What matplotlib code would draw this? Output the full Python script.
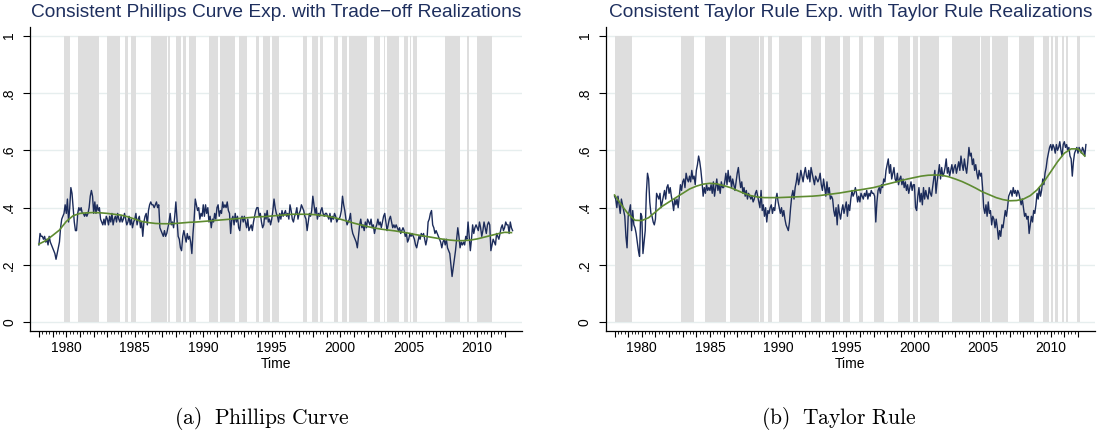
import numpy as np
import matplotlib
matplotlib.use("Agg")
import matplotlib.pyplot as plt
from matplotlib.ticker import FixedLocator, FuncFormatter

plt.rcParams['mathtext.fontset'] = 'cm'

# ---------------- data ----------------
start_year = 1978.0

# Phillips curve panel: monthly series (in hundredths), 1978m1 .. 2012m8
pc_vals = [
    27,31,30,30,29,30,28,29,27,30,28,27,
    26,25,24,22,24,26,28,33,36,37,38,41,
    38,43,35,40,47,45,40,35,32,32,38,40,
    39,40,38,38,37,38,37,38,40,44,46,44,
    38,42,38,41,39,40,36,35,34,36,34,37,
    36,34,37,35,38,34,36,37,35,38,36,35,
    37,35,36,38,36,34,35,37,34,36,33,35,
    36,38,34,36,37,33,35,30,35,37,38,34,
    39,41,42,41,41,40,41,42,40,41,33,32,
    31,30,32,30,31,33,35,38,34,35,33,37,
    42,36,30,29,26,25,30,32,30,28,31,29,
    30,28,24,31,36,43,41,39,40,36,38,37,
    41,37,41,38,40,35,37,33,36,35,38,36,
    40,41,37,39,38,42,40,41,40,42,39,38,
    31,36,37,34,38,35,37,33,32,36,37,35,
    37,35,33,36,32,33,34,32,35,37,39,40,
    40,37,38,35,33,34,38,36,39,35,36,34,
    36,39,43,40,38,37,35,38,36,39,37,38,
    39,37,38,36,41,39,36,35,37,38,40,36,
    38,39,41,40,39,37,36,32,35,38,37,39,
    44,41,38,40,36,38,37,39,40,38,37,38,
    38,37,36,38,35,37,36,38,37,35,36,36,
    37,39,44,41,39,36,34,35,36,38,33,31,
    30,29,28,26,30,34,36,33,34,32,35,33,
    36,35,34,36,33,34,31,33,34,36,34,35,
    33,35,37,38,35,32,34,36,37,35,33,34,
    33,34,33,32,33,31,32,33,32,30,31,28,
    29,31,30,31,30,29,27,26,28,30,29,31,
    30,31,29,27,29,35,36,38,39,34,33,31,
    32,31,30,29,28,26,28,29,27,29,26,25,
    24,20,16,19,22,25,29,33,30,26,28,27,
    28,27,30,29,35,30,25,29,34,31,33,34,
    33,32,35,33,30,32,35,33,31,34,35,34,
    25,27,29,28,27,31,30,29,31,33,34,32,
    33,35,34,34,31,35,33,32,
]

# Phillips curve panel: smooth trend, half-yearly, 1978.0 .. 2012.5
pc_trend = [
    .273,.285,.303,.322,.352,.372,.380,.382,.383,.382,
    .380,.377,.374,.368,.360,.352,.348,.345,.344,.344,
    .345,.347,.349,.350,.352,.354,.356,.358,.360,.362,
    .364,.366,.368,.369,.371,.373,.375,.377,.377,.377,
    .376,.374,.371,.366,.360,.353,.346,.340,.334,.329,
    .325,.322,.319,.315,.311,.306,.302,.298,.294,.290,
    .287,.285,.285,.287,.291,.297,.303,.309,.314,.313,
]

# Phillips curve panel: shaded periods (start, end) in years
pc_shade_start = [1979.80,1980.83,1983.00,1984.26,1984.75,1986.17,1987.39,1987.99,
                  1988.49,1988.97,1990.41,1991.21,1992.63,1993.85,1994.36,1995.02,
                  1997.31,1997.97,1998.53,1999.58,2000.12,2000.65,2002.43,2003.16,
                  2003.41,2004.62,2005.06,2005.35,2007.67,2009.26,2010.00]
pc_shade_end   = [1980.24,1982.38,1983.90,1984.48,1985.07,1987.32,1987.56,1988.36,
                  1988.74,1989.46,1991.05,1992.31,1993.19,1994.07,1994.89,1995.51,
                  1997.60,1998.41,1998.77,1999.87,2000.48,2001.95,2002.92,2003.28,
                  2004.26,2004.92,2005.19,2005.60,2008.77,2009.43,2011.10]

# Taylor rule panel: monthly series (in hundredths), 1978m1 .. 2012m8
tr_vals = [
    44,43,40,44,41,38,43,41,39,37,30,26,
    37,39,41,32,39,34,33,31,28,25,23,38,
    37,24,28,32,45,52,50,42,38,37,35,34,
    36,45,44,43,45,40,42,44,46,43,47,48,
    45,47,44,42,39,43,41,43,40,44,48,46,
    49,50,47,52,50,49,51,49,53,50,51,48,
    53,55,58,56,53,49,44,47,45,48,46,47,
    46,48,45,49,44,47,50,46,48,45,49,47,
    47,49,52,48,53,49,51,47,50,48,46,49,
    52,54,50,47,49,45,47,44,46,43,45,44,
    43,44,42,43,45,46,44,42,40,46,39,41,
    37,40,35,39,38,40,41,38,40,39,43,45,
    42,40,38,40,37,39,36,34,33,32,35,40,
    44,46,43,47,49,52,48,50,53,51,49,52,
    54,51,50,53,49,54,52,50,48,51,50,49,
    50,52,48,46,50,47,44,49,45,47,43,44,
    43,39,37,40,34,41,38,36,39,41,38,40,
    42,37,41,39,43,46,44,45,47,45,42,44,
    42,45,44,43,45,44,46,43,45,44,46,45,
    45,44,35,42,46,47,45,48,47,50,49,53,
    55,57,52,55,50,52,54,50,49,52,48,50,
    51,48,50,47,49,46,48,45,47,49,46,48,
    48,40,39,44,47,42,45,41,47,43,46,44,
    43,47,45,44,47,50,53,45,49,52,55,50,
    54,51,52,54,57,52,54,51,53,55,52,54,
    55,52,54,56,53,58,55,53,57,54,52,56,
    61,58,59,55,57,53,55,52,50,53,51,52,
    47,40,38,41,37,42,38,39,34,37,36,33,
    36,33,29,32,30,34,33,36,39,37,40,44,
    45,46,44,47,45,46,44,46,45,43,41,43,
    40,37,38,36,37,31,34,37,35,39,38,41,
    45,43,47,44,46,50,48,52,54,57,59,61,
    62,60,62,61,59,62,60,61,63,60,58,62,
    63,61,62,60,61,58,57,51,56,59,60,61,
    59,61,60,59,61,60,58,62,
]

# Taylor rule panel: smooth trend, half-yearly, 1978.0 .. 2012.5
tr_trend = [
    .444,.410,.378,.356,.355,.365,.385,.405,.420,.435,
    .450,.465,.475,.482,.485,.483,.477,.470,.460,.450,
    .442,.437,.435,.435,.435,.436,.437,.438,.439,.440,
    .442,.445,.448,.451,.455,.459,.462,.466,.470,.476,
    .482,.488,.494,.500,.505,.510,.513,.514,.513,.508,
    .500,.491,.480,.468,.455,.445,.435,.428,.424,.425,
    .430,.442,.462,.490,.525,.560,.590,.605,.605,.580,
]

# Taylor rule panel: shaded periods (start, end) in years
tr_shade_start = [1978.00,1982.87,1984.63,1986.46,1988.67,1989.29,1990.04,1992.44,
                  1993.41,1994.75,1995.92,1997.07,1998.77,1999.88,2000.40,2002.75,
                  2004.87,2005.70,2007.67,2009.43,2009.99,2010.33,2010.80,2011.13,
                  2011.94]
tr_shade_end   = [1979.27,1983.85,1986.14,1988.60,1988.97,1989.58,1991.75,1993.17,
                  1994.51,1995.29,1996.26,1997.80,1999.66,2000.25,2001.82,2004.80,
                  2005.53,2006.89,2008.77,2009.87,2010.16,2010.57,2010.99,2011.26,
                  2012.12]

titles = ["Consistent Phillips Curve Exp. with Trade\u2212off Realizations",
          "Consistent Taylor Rule Exp. with Taylor Rule Realizations"]
captions = [r"$\mathrm{(a)\ \ Phillips\ Curve}$", r"$\mathrm{(b)\ \ Taylor\ Rule}$"]
y_ticks = [0, .2, .4, .6, .8, 1]
y_ticklabels = ["0", ".2", ".4", ".6", ".8", "1"]
x_labeled = [1980, 1985, 1990, 1995, 2000, 2005, 2010]
x_label = "Time"

# ---------------- styling ----------------
W, H = 1099, 433
NAVY = '#1c2c5b'
GREEN = '#5e8b30'
SHADE = '#dedede'
GRID = '#e6eeee'
TITLE_C = '#1e2f5e'
FONT = 'Liberation Sans'

fig = plt.figure(figsize=(W / 100, H / 100), dpi=100)

panels = [
    dict(left=30, right=521.7, vals=pc_vals, trend=pc_trend,
         s=pc_shade_start, e=pc_shade_end),
    dict(left=605.7, right=1095, vals=tr_vals, trend=tr_trend,
         s=tr_shade_start, e=tr_shade_end),
]
top_px, bot_px = 26.7, 330.7

for i, p in enumerate(panels):
    ax = fig.add_axes([p['left'] / W, 1 - bot_px / H,
                       (p['right'] - p['left']) / W, (bot_px - top_px) / H])
    vals = np.array(p['vals']) / 100.0
    t = start_year + np.arange(len(vals)) / 12.0
    tt = start_year + np.arange(len(p['trend'])) / 2.0

    s = np.array(p['s']); e = np.array(p['e'])
    ax.bar(s, np.ones_like(s), width=e - s, bottom=0, align='edge',
           color=SHADE, linewidth=0, zorder=1)
    for yv in y_ticks:
        ax.axhline(yv, color=GRID, lw=1.0, zorder=0.5)
    ax.plot(t, vals, color=NAVY, lw=1.0, zorder=3)
    ax.plot(tt, p['trend'], color=GREEN, lw=1.2, zorder=4)

    ax.set_xlim(1977.35, 2013.25)
    ax.set_ylim(-0.029, 1.031)
    for sp in ['top', 'right']:
        ax.spines[sp].set_visible(False)
    for sp in ['left', 'bottom']:
        ax.spines[sp].set_color('#000000')
        ax.spines[sp].set_linewidth(0.9)

    ax.set_yticks(y_ticks)
    ax.set_yticklabels(y_ticklabels, rotation=90, va='center',
                       fontsize=10, family=FONT)
    ax.tick_params(axis='y', length=5, width=0.8, pad=5)

    years = np.arange(1978, 2013)
    ax.xaxis.set_major_locator(FixedLocator(years))
    ax.xaxis.set_major_formatter(FuncFormatter(
        lambda v, pos: str(int(round(v))) if int(round(v)) in x_labeled else ""))
    quarters = [y + q / 4 for y in range(1978, 2012) for q in (1, 2, 3)]
    ax.xaxis.set_minor_locator(FixedLocator(quarters))
    ax.tick_params(axis='x', which='major', length=4, width=0.8, pad=3.5,
                   labelsize=10)
    ax.tick_params(axis='x', which='minor', length=2, width=0.6)
    for lab in ax.get_xticklabels():
        lab.set_family(FONT)
    ax.set_xlabel(x_label, fontsize=10, family=FONT, labelpad=1.5)

    cx = (p['left'] + p['right']) / 2
    fig.text(cx / W, 1 - 12.7 / H, titles[i], ha='center', va='center',
             fontsize=13.8, color=TITLE_C, family=FONT)

fig.text(262 / W, 1 - 418 / H, captions[0], ha='center', va='center', fontsize=15.5)
fig.text(839 / W, 1 - 418 / H, captions[1], ha='center', va='center', fontsize=15.5)

fig.savefig('out.png', dpi=100)
